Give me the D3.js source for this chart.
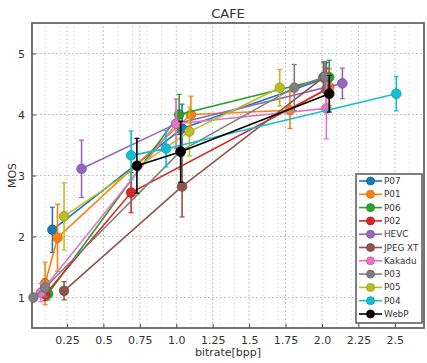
<!DOCTYPE html>
<html>
<head>
<meta charset="utf-8">
<script src="https://cdn.jsdelivr.net/npm/d3@7"></script>
<style>
  body { margin: 0; background: #fff; }
  text { font-family: "DejaVu Sans", sans-serif; fill: #333; }
</style>
</head>
<body>
<div id="viz"></div>
<script>
// series: [bitrate, mos, error]
const series_names = ["P07", "P01", "P06", "P02", "HEVC", "JPEG XT", "Kakadu", "P03", "P05", "P04", "WebP"];
const series_colors = ["#1f77b4", "#ff7f0e", "#2ca02c", "#d62728", "#9467bd", "#8c564b",
                       "#e377c2", "#7f7f7f", "#bcbd22", "#17becf", "#000000"];

const p07    = [[0.15, 2.11, 0.37], [1.04, 3.77, 0.40], [2.03, 4.60, 0.25]];
const p01    = [[0.10, 1.23, 0.35], [0.185, 1.98, 0.55], [1.10, 4.00, 0.30], [1.78, 4.07, 0.30], [2.05, 4.45, 0.30]];
const p06    = [[0.12, 1.06, 0.10], [1.02, 4.00, 0.33], [2.05, 4.61, 0.28]];
const p02    = [[0.10, 1.05, 0.10], [0.69, 2.72, 0.33], [2.03, 4.41, 0.35]];
const hevc   = [[0.35, 3.11, 0.47], [1.00, 3.85, 0.40], [2.14, 4.51, 0.25]];
const jpegxt = [[0.23, 1.11, 0.15], [1.04, 2.82, 0.50], [2.01, 4.61, 0.25]];
const kakadu = [[0.07, 1.08, 0.15], [1.00, 3.85, 0.40], [2.03, 4.10, 0.50]];
const p03    = [[0.02, 1.00, 0.05], [0.10, 1.16, 0.15], [1.03, 3.40, 0.30], [1.81, 4.44, 0.38], [2.02, 4.62, 0.25]];
const p05    = [[0.23, 2.33, 0.55], [1.09, 3.72, 0.40], [1.71, 4.44, 0.30]];
const p04    = [[0.69, 3.33, 0.40], [0.93, 3.44, 0.30], [2.51, 4.34, 0.28]];
const webp   = [[0.73, 3.16, 0.45], [1.03, 3.39, 0.50], [2.05, 4.34, 0.30]];
const series_values = [p07, p01, p06, p02, hevc, jpegxt, kakadu, p03, p05, p04, webp];

const x_ticks = [0.25, 0.5, 0.75, 1.0, 1.25, 1.5, 1.75, 2.0, 2.25, 2.5];
const x_tick_labels = ["0.25", "0.5", "0.75", "1.0", "1.25", "1.5", "1.75", "2.0", "2.25", "2.5"];
const y_ticks = [1, 2, 3, 4, 5];

const width = 427, height = 363,
      margin = {left: 32, right: 3, top: 23, bottom: 35},
      viz_width = width - margin.left - margin.right,
      viz_height = height - margin.top - margin.bottom;

const svg = d3.select("#viz").append("svg")
  .attr("width", width).attr("height", height);

const x = d3.scaleLinear().domain([0.01, 2.7]).range([margin.left, margin.left + viz_width]);
const y = d3.scaleLinear().domain([0.5, 5.5]).range([margin.top + viz_height, margin.top]);

// grid: minor verticals, then major lines
const minor_x = d3.range(0.1, 2.7, 0.1).filter(v => !x_ticks.some(t => Math.abs(t - v) < 0.02));
svg.append("g").selectAll("line").data(minor_x).join("line")
  .attr("x1", d => x(d)).attr("x2", d => x(d))
  .attr("y1", y.range()[0]).attr("y2", y.range()[1])
  .style("stroke", "#d4d4d4").style("stroke-width", 0.8).style("stroke-dasharray", "1.5,2.5");

svg.append("g").selectAll("line").data(x_ticks).join("line")
  .attr("x1", d => x(d)).attr("x2", d => x(d))
  .attr("y1", y.range()[0]).attr("y2", y.range()[1])
  .style("stroke", "#b4b4b4").style("stroke-width", 1).style("stroke-dasharray", "1.5,2.5");

svg.append("g").selectAll("line").data(y_ticks).join("line")
  .attr("x1", x.range()[0]).attr("x2", x.range()[1])
  .attr("y1", d => y(d)).attr("y2", d => y(d))
  .style("stroke", "#b4b4b4").style("stroke-width", 1).style("stroke-dasharray", "1.5,2.5");

// axes
const xAxis = svg.append("g")
  .attr("transform", `translate(0,${margin.top + viz_height})`)
  .call(d3.axisBottom(x).tickValues(x_ticks).tickFormat((d, i) => x_tick_labels[i]).tickSize(-4).tickPadding(8));
const yAxis = svg.append("g")
  .attr("transform", `translate(${margin.left},0)`)
  .call(d3.axisLeft(y).tickValues(y_ticks).tickFormat(d3.format("d")).tickSize(-4).tickPadding(7));
[xAxis, yAxis].forEach(a => {
  a.select(".domain").remove();
  a.selectAll(".tick line").style("stroke", "#444");
  a.selectAll(".tick text").style("font-size", "11px").style("fill", "#333");
});

// frame
svg.append("rect")
  .attr("x", margin.left).attr("y", margin.top)
  .attr("width", viz_width).attr("height", viz_height)
  .style("fill", "none").style("stroke", "#666").style("stroke-width", 1.8);

const line = d3.line().x(d => x(d[0])).y(d => y(d[1]));

series_values.forEach((vals, i) => {
  const col = series_colors[i],
        g = svg.append("g");

  g.selectAll("line.err").data(vals).join("line")
    .attr("class", "err")
    .attr("x1", d => x(d[0])).attr("x2", d => x(d[0]))
    .attr("y1", d => y(d[1] - d[2])).attr("y2", d => y(d[1] + d[2]))
    .style("stroke", col).style("stroke-width", 1.6);

  g.selectAll("line.cap").data(vals.flatMap(d => [d[1] - d[2], d[1] + d[2]].map(v => [d[0], v]))).join("line")
    .attr("class", "cap")
    .attr("x1", d => x(d[0]) - 2.5).attr("x2", d => x(d[0]) + 2.5)
    .attr("y1", d => y(d[1])).attr("y2", d => y(d[1]))
    .style("stroke", col).style("stroke-width", 1.2);

  g.append("path")
    .attr("d", line(vals))
    .style("stroke", col).style("stroke-width", 1.6).style("fill", "none");

  g.selectAll("circle").data(vals).join("circle")
    .attr("cx", d => x(d[0])).attr("cy", d => y(d[1]))
    .attr("r", 4.8)
    .style("fill", col)
    .style("stroke", d3.color(col).darker(0.6))
    .style("stroke-width", 0.8);
});

// legend
const legend = svg.append("g");
legend.append("rect")
  .attr("x", 356).attr("y", 174).attr("width", 66).attr("height", 149)
  .style("fill", "#fff").style("stroke", "#555").style("stroke-width", 1.5);

const row = legend.selectAll("g.row").data(series_names).join("g")
  .attr("class", "row")
  .attr("transform", (d, i) => `translate(0,${181 + i * 13.3})`);
row.append("line")
  .attr("x1", 359).attr("x2", 382)
  .style("stroke", (d, i) => series_colors[i]).style("stroke-width", 1.6);
row.append("circle")
  .attr("cx", 370.5).attr("r", 4)
  .style("fill", (d, i) => series_colors[i])
  .style("stroke", (d, i) => d3.color(series_colors[i]).darker(0.6)).style("stroke-width", 0.8);
row.append("text")
  .attr("x", 384).attr("dy", "0.35em")
  .style("font-size", "8.8px")
  .text(d => d);

// title and axis labels
svg.append("text")
  .attr("x", margin.left + viz_width / 2).attr("y", 18)
  .attr("text-anchor", "middle").style("font-size", "13px")
  .text("CAFE");
svg.append("text")
  .attr("x", margin.left + viz_width / 2).attr("y", 356)
  .attr("text-anchor", "middle").style("font-size", "11px")
  .text("bitrate[bpp]");
svg.append("text")
  .attr("transform", `translate(16,${y(3)}) rotate(-90)`)
  .attr("text-anchor", "middle").style("font-size", "11px")
  .text("MOS");
</script>
</body>
</html>
